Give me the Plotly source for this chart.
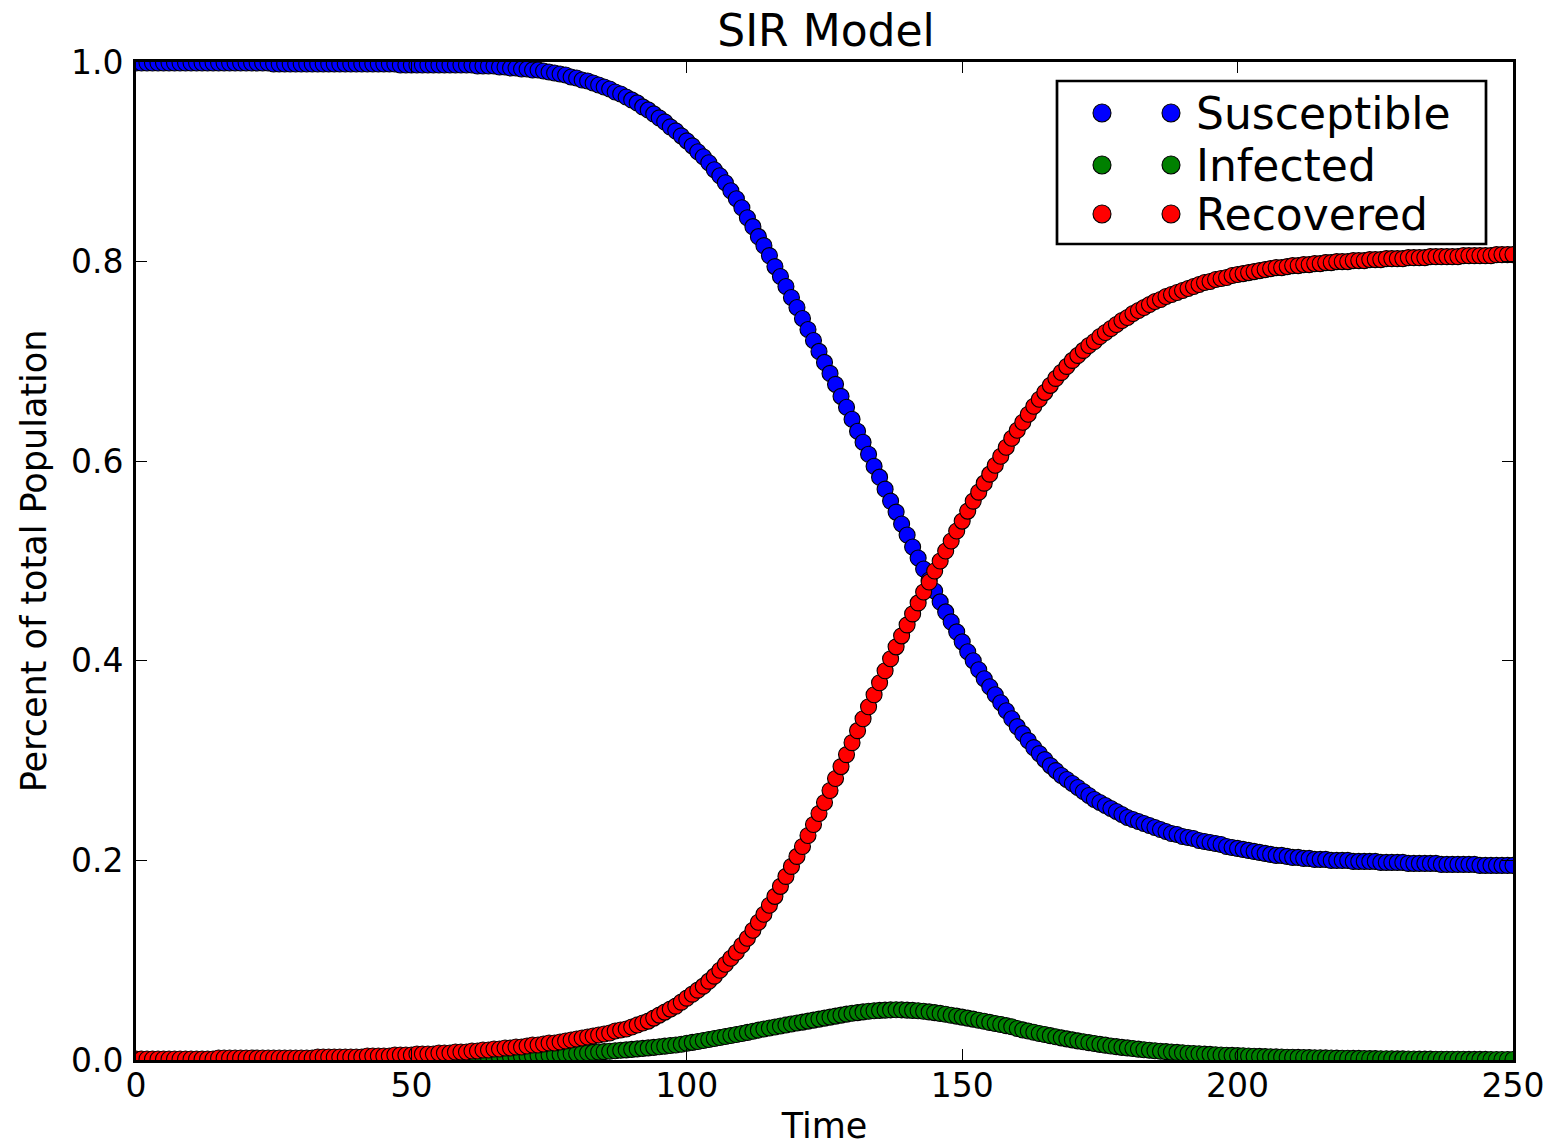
import plotly.graph_objects as go

# ---------------- data ----------------
time = list(range(0, 251))

susceptible = [
    0.999, 0.999, 0.999, 0.999, 0.999, 0.999, 0.999, 0.999, 0.999, 0.999,
    0.999, 0.999, 0.999, 0.999, 0.999, 0.999, 0.999, 0.999, 0.999, 0.999,
    0.999, 0.999, 0.999, 0.999, 0.999, 0.998, 0.998, 0.998, 0.998, 0.998,
    0.998, 0.998, 0.998, 0.998, 0.998, 0.998, 0.998, 0.998, 0.998, 0.998,
    0.998, 0.998, 0.998, 0.998, 0.998, 0.998, 0.998, 0.998, 0.997, 0.997,
    0.997, 0.997, 0.997, 0.997, 0.997, 0.997, 0.997, 0.997, 0.997, 0.997,
    0.997, 0.997, 0.996, 0.996, 0.996, 0.996, 0.995, 0.995, 0.994, 0.994,
    0.993, 0.993, 0.992, 0.992, 0.991, 0.990, 0.989, 0.988, 0.987, 0.985,
    0.984, 0.982, 0.981, 0.979, 0.977, 0.975, 0.973, 0.970, 0.968, 0.965,
    0.962, 0.959, 0.955, 0.952, 0.948, 0.944, 0.940, 0.935, 0.931, 0.926,
    0.921, 0.916, 0.910, 0.905, 0.899, 0.892, 0.886, 0.879, 0.871, 0.863,
    0.854, 0.844, 0.835, 0.825, 0.816, 0.806, 0.795, 0.785, 0.775, 0.764,
    0.754, 0.743, 0.732, 0.721, 0.710, 0.699, 0.688, 0.677, 0.665, 0.654,
    0.642, 0.630, 0.619, 0.607, 0.595, 0.584, 0.572, 0.560, 0.549, 0.537,
    0.526, 0.514, 0.503, 0.492, 0.481, 0.470, 0.459, 0.449, 0.439, 0.429,
    0.419, 0.409, 0.400, 0.391, 0.382, 0.374, 0.366, 0.358, 0.350, 0.342,
    0.334, 0.327, 0.320, 0.313, 0.307, 0.301, 0.295, 0.290, 0.285, 0.281,
    0.277, 0.273, 0.269, 0.265, 0.261, 0.258, 0.255, 0.252, 0.249, 0.246,
    0.243, 0.241, 0.239, 0.237, 0.235, 0.233, 0.231, 0.229, 0.227, 0.226,
    0.224, 0.223, 0.222, 0.220, 0.219, 0.218, 0.217, 0.216, 0.214, 0.213,
    0.212, 0.211, 0.210, 0.209, 0.208, 0.207, 0.206, 0.205, 0.205, 0.204,
    0.203, 0.203, 0.202, 0.202, 0.201, 0.201, 0.201, 0.200, 0.200, 0.200,
    0.200, 0.199, 0.199, 0.199, 0.199, 0.199, 0.198, 0.198, 0.198, 0.198,
    0.198, 0.197, 0.197, 0.197, 0.197, 0.197, 0.197, 0.196, 0.196, 0.196,
    0.196, 0.196, 0.196, 0.196, 0.195, 0.195, 0.195, 0.195, 0.195, 0.195,
    0.195,
]

infected = [
    0.0001, 0.0001, 0.0001, 0.0001, 0.0001, 0.0001, 0.0001, 0.0001, 0.0001, 0.0001,
    0.0001, 0.0001, 0.0001, 0.0001, 0.0001, 0.0002, 0.0002, 0.0002, 0.0002, 0.0002,
    0.0002, 0.0002, 0.0002, 0.0002, 0.0002, 0.0002, 0.0002, 0.0002, 0.0002, 0.0002,
    0.0003, 0.0003, 0.0003, 0.0003, 0.0003, 0.0004, 0.0004, 0.0004, 0.0004, 0.0004,
    0.0005, 0.0005, 0.0006, 0.0006, 0.0007, 0.0007, 0.0008, 0.0008, 0.0009, 0.0010,
    0.0011, 0.0012, 0.0013, 0.0014, 0.0015, 0.0016, 0.0017, 0.0018, 0.0019, 0.0019,
    0.0020, 0.0021, 0.0023, 0.0024, 0.0026, 0.0028, 0.0030, 0.0032, 0.0034, 0.0036,
    0.0038, 0.0040, 0.0043, 0.0045, 0.0048, 0.0050, 0.0053, 0.0056, 0.0059, 0.0062,
    0.0065, 0.0069, 0.0072, 0.0076, 0.0080, 0.0084, 0.0088, 0.0092, 0.0097, 0.0101,
    0.0106, 0.0111, 0.0116, 0.0121, 0.0127, 0.0133, 0.0139, 0.0145, 0.0151, 0.0158,
    0.0168, 0.0177, 0.0186, 0.0196, 0.0206, 0.0216, 0.0226, 0.0236, 0.0246, 0.0256,
    0.0266, 0.0277, 0.0288, 0.0299, 0.0310, 0.0320, 0.0330, 0.0340, 0.0350, 0.0360,
    0.0370, 0.0380, 0.0390, 0.0400, 0.0410, 0.0420, 0.0430, 0.0440, 0.0450, 0.0460,
    0.0468, 0.0475, 0.0482, 0.0488, 0.0493, 0.0497, 0.0500, 0.0502, 0.0503, 0.0502,
    0.0500, 0.0497, 0.0493, 0.0488, 0.0482, 0.0475, 0.0467, 0.0458, 0.0449, 0.0440,
    0.0430, 0.0420, 0.0410, 0.0399, 0.0388, 0.0377, 0.0366, 0.0355, 0.0344, 0.0333,
    0.0315, 0.0302, 0.0290, 0.0278, 0.0266, 0.0255, 0.0244, 0.0233, 0.0222, 0.0212,
    0.0202, 0.0192, 0.0183, 0.0174, 0.0165, 0.0157, 0.0149, 0.0141, 0.0134, 0.0127,
    0.0121, 0.0115, 0.0109, 0.0103, 0.0098, 0.0093, 0.0088, 0.0084, 0.0080, 0.0076,
    0.0072, 0.0068, 0.0065, 0.0062, 0.0059, 0.0056, 0.0053, 0.0050, 0.0048, 0.0046,
    0.0044, 0.0042, 0.0040, 0.0038, 0.0036, 0.0034, 0.0033, 0.0031, 0.0030, 0.0028,
    0.0027, 0.0026, 0.0025, 0.0024, 0.0023, 0.0022, 0.0021, 0.0020, 0.0019, 0.0018,
    0.0017, 0.0016, 0.0016, 0.0015, 0.0014, 0.0014, 0.0013, 0.0012, 0.0012, 0.0011,
    0.0011, 0.0010, 0.0010, 0.0009, 0.0009, 0.0009, 0.0008, 0.0008, 0.0008, 0.0007,
    0.0007, 0.0007, 0.0006, 0.0006, 0.0006, 0.0006, 0.0005, 0.0005, 0.0005, 0.0005,
    0.0005,
]

recovered = [
    0.001, 0.001, 0.001, 0.001, 0.001, 0.001, 0.001, 0.001, 0.001, 0.001,
    0.001, 0.001, 0.001, 0.001, 0.001, 0.002, 0.002, 0.002, 0.002, 0.002,
    0.002, 0.002, 0.002, 0.002, 0.002, 0.002, 0.002, 0.002, 0.002, 0.002,
    0.002, 0.002, 0.002, 0.003, 0.003, 0.003, 0.003, 0.003, 0.003, 0.003,
    0.003, 0.003, 0.004, 0.004, 0.004, 0.004, 0.004, 0.005, 0.005, 0.005,
    0.005, 0.006, 0.006, 0.006, 0.006, 0.007, 0.007, 0.007, 0.008, 0.008,
    0.008, 0.009, 0.009, 0.010, 0.010, 0.011, 0.011, 0.012, 0.012, 0.013,
    0.013, 0.014, 0.015, 0.015, 0.016, 0.017, 0.017, 0.018, 0.019, 0.020,
    0.021, 0.022, 0.023, 0.024, 0.025, 0.026, 0.027, 0.029, 0.030, 0.031,
    0.033, 0.035, 0.037, 0.039, 0.042, 0.045, 0.048, 0.051, 0.054, 0.058,
    0.062, 0.066, 0.070, 0.074, 0.079, 0.084, 0.090, 0.096, 0.102, 0.108,
    0.115, 0.122, 0.130, 0.138, 0.146, 0.155, 0.164, 0.174, 0.184, 0.194,
    0.204, 0.214, 0.225, 0.236, 0.247, 0.258, 0.270, 0.282, 0.294, 0.306,
    0.318, 0.330, 0.342, 0.354, 0.366, 0.378, 0.390, 0.402, 0.414, 0.425,
    0.436, 0.447, 0.458, 0.469, 0.479, 0.490, 0.500, 0.510, 0.520, 0.530,
    0.540, 0.550, 0.560, 0.569, 0.578, 0.587, 0.596, 0.605, 0.614, 0.623,
    0.631, 0.639, 0.647, 0.655, 0.662, 0.669, 0.676, 0.683, 0.689, 0.695,
    0.701, 0.706, 0.711, 0.716, 0.720, 0.725, 0.729, 0.733, 0.737, 0.741,
    0.744, 0.748, 0.751, 0.754, 0.757, 0.760, 0.762, 0.765, 0.767, 0.769,
    0.771, 0.773, 0.775, 0.777, 0.779, 0.780, 0.782, 0.783, 0.784, 0.786,
    0.787, 0.788, 0.789, 0.790, 0.791, 0.792, 0.793, 0.794, 0.794, 0.795,
    0.796, 0.796, 0.797, 0.797, 0.798, 0.798, 0.799, 0.799, 0.800, 0.800,
    0.800, 0.801, 0.801, 0.801, 0.802, 0.802, 0.802, 0.803, 0.803, 0.803,
    0.803, 0.804, 0.804, 0.804, 0.804, 0.805, 0.805, 0.805, 0.805, 0.805,
    0.805, 0.806, 0.806, 0.806, 0.806, 0.806, 0.806, 0.807, 0.807, 0.807,
    0.807,
]

series_names = ["Susceptible", "Infected", "Recovered"]
series_colors = ["#0000ff", "#008000", "#ff0000"]
x_ticks = [0, 50, 100, 150, 200, 250]
y_ticks = [0.0, 0.2, 0.4, 0.6, 0.8, 1.0]

# ---------------- layout geometry ----------------
W, H = 1554, 1146
ML, MR, MT, MB = 136, 41, 62, 86
PW = W - ML - MR
PH = H - MT - MB
FONT = "DejaVu Sans"


def paper_x(px):
    return (px - ML) / PW


def paper_y(py):
    return (H - MB - py) / PH


fig = go.Figure()
for name, vals, color in zip(series_names, [susceptible, infected, recovered], series_colors):
    fig.add_trace(go.Scatter(
        x=time, y=vals, mode="markers", name=name, showlegend=False,
        marker=dict(symbol="circle", size=16, color=color,
                    line=dict(color="black", width=1.1)),
    ))

axis_common = dict(
    showline=True, linewidth=3, linecolor="black", mirror="ticks",
    ticks="inside", ticklen=11, tickwidth=1.2, tickcolor="black",
    showgrid=False, zeroline=False,
    tickfont=dict(family=FONT, size=33, color="black"),
)

fig.update_xaxes(range=[0, 250], tickvals=x_ticks, ticktext=[str(v) for v in x_ticks],
                 title=dict(text="Time", font=dict(family=FONT, size=35, color="black"), standoff=16),
                 ticklabelstandoff=-6, **axis_common)
fig.update_yaxes(range=[0, 1], tickvals=y_ticks, ticktext=[f"{v:.1f}" for v in y_ticks],
                 title=dict(text="Percent of total Population",
                            font=dict(family=FONT, size=35, color="black"), standoff=14),
                 ticklabelstandoff=3, **axis_common)

# ---------------- legend (matplotlib style, two markers per entry) ----------------
shapes = [dict(type="rect", xref="paper", yref="paper",
               x0=paper_x(1057), x1=paper_x(1486), y0=paper_y(244), y1=paper_y(81),
               line=dict(color="black", width=2.7), fillcolor="white", layer="above")]
annotations = []
rows = [113, 165, 214]
for name, color, ry in zip(series_names, series_colors, rows):
    for cx in (1102, 1171):
        shapes.append(dict(type="circle", xref="paper", yref="paper",
                           xsizemode="pixel", ysizemode="pixel",
                           xanchor=paper_x(cx), yanchor=paper_y(ry),
                           x0=-9, x1=9, y0=-9, y1=9,
                           fillcolor=color, line=dict(color="black", width=1.1), layer="above"))
    annotations.append(dict(text=name, xref="paper", yref="paper",
                            x=paper_x(1194), y=paper_y(ry), xanchor="left", yanchor="middle",
                            showarrow=False, font=dict(family=FONT, size=44, color="black")))

fig.update_layout(
    width=W, height=H,
    margin=dict(l=ML, r=MR, t=MT, b=MB, autoexpand=False),
    paper_bgcolor="white", plot_bgcolor="white",
    title=dict(text="SIR Model", x=826 / W, xanchor="center",
               y=1 - 31 / H, yanchor="middle", yref="container",
               font=dict(family=FONT, size=44, color="black")),
    shapes=shapes, annotations=annotations,
    showlegend=False,
)

fig.write_html("out.html")
